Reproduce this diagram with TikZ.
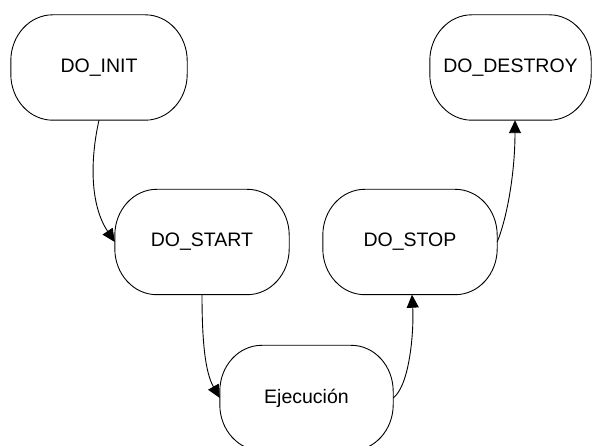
\documentclass[tikz,border=0pt]{standalone}
\usepackage{fontspec}
\setmainfont{Liberation Sans}
\usetikzlibrary{arrows.meta}

% Outline of a state box: a rectangle whose corners are quarter ellipses
\newcommand\lifecyclebox[1]{%
  \draw[outline] ([xshift=42pt]#1.north west) -- ([xshift=-42pt]#1.north east)
    arc[start angle=90,end angle=0,x radius=42pt,y radius=46pt]
    -- ([yshift=46pt]#1.south east)
    arc[start angle=0,end angle=-90,x radius=42pt,y radius=46pt]
    -- ([xshift=42pt]#1.south west)
    arc[start angle=-90,end angle=-180,x radius=42pt,y radius=46pt]
    -- ([yshift=-46pt]#1.north west)
    arc[start angle=180,end angle=90,x radius=42pt,y radius=46pt]
    -- cycle;}

\begin{document}
\begin{tikzpicture}[x=1pt,y=-1pt,
  state/.style={rectangle,inner sep=0pt,minimum height=105pt,
    font=\fontsize{19.5pt}{23pt}\selectfont},
  outline/.style={draw=black,line width=0.9pt},
  flow/.style={draw=black,line width=0.9pt,-{Triangle[length=13pt,width=12pt]}}]
\useasboundingbox[fill=white] (0,0) rectangle (592,446);

% states
\node[state,minimum width=176pt] (init)    at (99,67.5)   {DO\_INIT};
\node[state,minimum width=161pt] (destroy) at (510.5,67.5) {DO\_DESTROY};
\node[state,minimum width=174pt] (start)   at (202,242)   {DO\_START};
\node[state,minimum width=174pt] (stop)    at (410,242)   {DO\_STOP};
\node[state,minimum width=173pt] (exec)    at (306.5,398) {Ejecución};

\lifecyclebox{init}
\lifecyclebox{destroy}
\lifecyclebox{start}
\lifecyclebox{stop}
\lifecyclebox{exec}

% transitions
\draw[flow] (init.south) .. controls (90,160) and (90,205) .. (start.west);
\draw[flow] (start.south) .. controls (202,340) and (205,372) .. (exec.west);
\draw[flow] (exec.east) .. controls (410,385) and (414,330) .. ([xshift=2pt]stop.south);
\draw[flow] (stop.east) .. controls (508,215) and (515,170) .. ([xshift=4.5pt]destroy.south);
\end{tikzpicture}
\end{document}
